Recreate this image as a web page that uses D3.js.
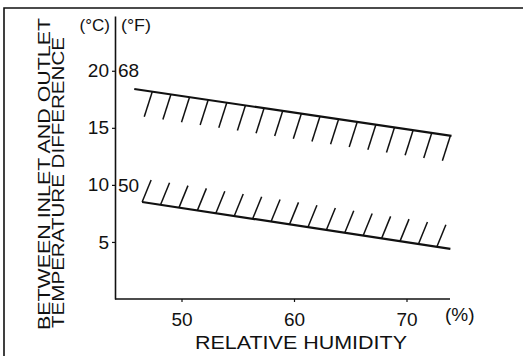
<!DOCTYPE html>
<html><head><meta charset="utf-8">
<script src="https://cdn.jsdelivr.net/npm/d3@7"></script>
<style>
html,body{margin:0;padding:0;background:#fff;}
svg text{font-family:"Liberation Sans",Arial,Helvetica,sans-serif;fill:#111;}
</style></head>
<body><svg id="c" width="523" height="356"></svg>
<script>
// ---- data ----
const xTicks = [50, 60, 70];
const yTicksC = [5, 10, 15, 20];
const yLabelsF = [{c: 20, f: "68"}, {c: 10, f: "50"}];
const upperHumidity = [45.8, 74.0];
const upperTempDiff = [18.4, 14.3];
const lowerHumidity = [46.5, 73.9];
const lowerTempDiff = [8.5, 4.4];
const hatchCount = 17;
const upperHatchRange = [47.4, 73.9];
const lowerHatchRange = [46.5, 72.7];
const unitC = "(°C)", unitF = "(°F)", unitX = "(%)";
const xTitle = "RELATIVE HUMIDITY";
const yTitle1 = "BETWEEN INLET AND OUTLET";
const yTitle2 = "TEMPERATURE DIFFERENCE";

const svg = d3.select("#c");
const x = d3.scaleLinear().domain([44, 74]).range([114, 451.5]);
const y = d3.scaleLinear().domain([0, 24.8]).range([299, 16]);
const ink = "#111";

// frame (top and left edges)
svg.append("path").attr("d", "M4,356 L4,8 L523,8").attr("fill", "none")
  .attr("stroke", ink).attr("stroke-width", 1.6);

// axes
const yAxis = d3.axisLeft(y).tickValues(yTicksC).tickSize(3).tickSizeOuter(0).tickPadding(3);
const gy = svg.append("g").attr("transform", "translate(115,0)").call(yAxis);
const xAxis = d3.axisBottom(x).tickValues(xTicks).tickSize(3).tickSizeOuter(0).tickPadding(11);
const gx = svg.append("g").attr("transform", "translate(0,299)").call(xAxis);
[gx, gy].forEach(g => {
  g.select(".domain").attr("stroke", ink).attr("stroke-width", 1.6);
  g.selectAll(".tick line").attr("stroke", ink).attr("stroke-width", 1.2);
  g.selectAll(".tick text").attr("font-size", 19).attr("fill", ink)
    .attr("font-family", '"Liberation Sans",Arial,sans-serif');
});
gx.select(".domain").attr("d", `M115,0H450`);

// Fahrenheit labels
svg.selectAll("text.f").data(yLabelsF).join("text").attr("class", "f")
  .attr("x", 118).attr("y", d => y(d.c)).attr("dy", "0.35em")
  .attr("font-size", 19).text(d => d.f);

// unit headers
svg.append("text").attr("x", 110).attr("y", 31).attr("text-anchor", "end")
  .attr("font-size", 17).text(unitC);
svg.append("text").attr("x", 121).attr("y", 31).attr("font-size", 17)
  .attr("textLength", 30).attr("lengthAdjust", "spacingAndGlyphs").text(unitF);
svg.append("text").attr("x", 445).attr("y", 321).attr("font-size", 19).text(unitX);

// titles
svg.append("text").attr("x", 301).attr("y", 349).attr("text-anchor", "middle")
  .attr("font-size", 19).attr("textLength", 212).attr("lengthAdjust", "spacingAndGlyphs")
  .text(xTitle);
svg.append("text").attr("transform", "translate(50,174) rotate(-90)")
  .attr("text-anchor", "middle").attr("font-size", 16.5)
  .attr("textLength", 312).attr("lengthAdjust", "spacingAndGlyphs").text(yTitle1);
svg.append("text").attr("transform", "translate(64,182.5) rotate(-90)")
  .attr("text-anchor", "middle").attr("font-size", 16.5)
  .attr("textLength", 291).attr("lengthAdjust", "spacingAndGlyphs").text(yTitle2);

// lines
const line = d3.line().x(d => x(d[0])).y(d => y(d[1]));
function band(hum, temp, range, hdx, hdy) {
  const pts = d3.zip(hum, temp);
  svg.append("path").attr("d", line(pts)).attr("fill", "none")
    .attr("stroke", ink).attr("stroke-width", 2.2);
  const interp = d3.scaleLinear().domain(hum).range(temp);
  const hx = d3.range(hatchCount).map(i => range[0] + (range[1] - range[0]) * i / (hatchCount - 1));
  svg.append("g").selectAll("line").data(hx).join("line")
    .attr("x1", d => x(d)).attr("y1", d => y(interp(d)))
    .attr("x2", d => x(d) + hdx).attr("y2", d => y(interp(d)) + hdy)
    .attr("stroke", ink).attr("stroke-width", 1.5);
}
band(upperHumidity, upperTempDiff, upperHatchRange, -8, 25);
band(lowerHumidity, lowerTempDiff, lowerHatchRange, 9, -22);
</script></body></html>
